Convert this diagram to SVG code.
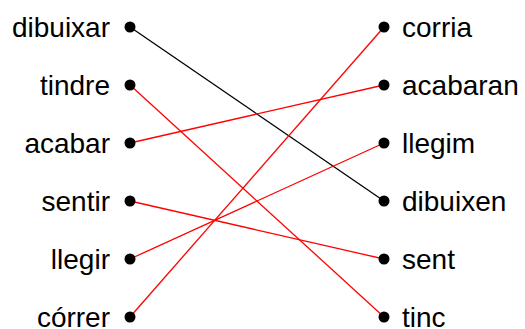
<svg xmlns="http://www.w3.org/2000/svg" width="525" height="329" viewBox="0 0 525 329">
<style>
text{font-family:"Liberation Sans",Arial,sans-serif;font-size:28px;fill:#000}
.l{text-anchor:end}
.c{stroke-width:1.3;fill:none}
.k{stroke:#000}
.r{stroke:#ff0000}
circle{fill:#000}
</style>
<rect width="525" height="329" fill="#fff"/>
<g id="connectors">
<line class="c k" x1="130" y1="27" x2="384" y2="201"/>
<line class="c r" x1="130" y1="85" x2="384" y2="317"/>
<line class="c r" x1="130" y1="143" x2="384" y2="85"/>
<line class="c r" x1="130" y1="201" x2="384" y2="259"/>
<line class="c r" x1="130" y1="259" x2="384" y2="143"/>
<line class="c r" x1="130" y1="317" x2="384" y2="27"/>
</g>
<g id="dibuixar"><text class="l" x="110" y="37">dibuixar</text><circle cx="130" cy="27" r="5.5"/></g>
<g id="tindre"><text class="l" x="110" y="95">tindre</text><circle cx="130" cy="85" r="5.5"/></g>
<g id="acabar"><text class="l" x="110" y="153">acabar</text><circle cx="130" cy="143" r="5.5"/></g>
<g id="sentir"><text class="l" x="110" y="211">sentir</text><circle cx="130" cy="201" r="5.5"/></g>
<g id="llegir"><text class="l" x="110" y="269">llegir</text><circle cx="130" cy="259" r="5.5"/></g>
<g id="correr"><text class="l" x="110" y="327">córrer</text><circle cx="130" cy="317" r="5.5"/></g>
<g id="corria"><circle cx="384" cy="27" r="5.5"/><text x="402" y="37">corria</text></g>
<g id="acabaran"><circle cx="384" cy="85" r="5.5"/><text x="402" y="95">acabaran</text></g>
<g id="llegim"><circle cx="384" cy="143" r="5.5"/><text x="402" y="153">llegim</text></g>
<g id="dibuixen"><circle cx="384" cy="201" r="5.5"/><text x="402" y="211">dibuixen</text></g>
<g id="sent"><circle cx="384" cy="259" r="5.5"/><text x="402" y="269">sent</text></g>
<g id="tinc"><circle cx="384" cy="317" r="5.5"/><text x="402" y="327">tinc</text></g>
</svg>
